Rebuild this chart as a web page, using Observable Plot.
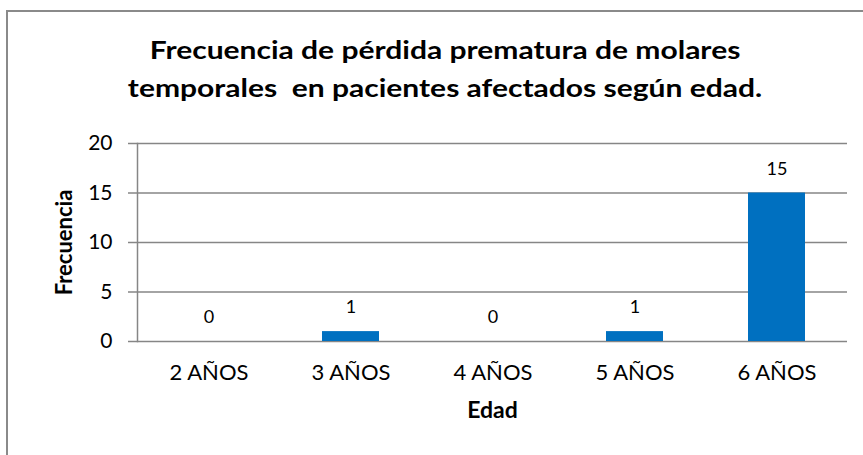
<!DOCTYPE html>
<html>
<head>
<meta charset="utf-8">
<script src="https://cdn.jsdelivr.net/npm/d3@7"></script>
<script src="https://cdn.jsdelivr.net/npm/@observablehq/plot@0.6"></script>
<style>
  html, body { margin: 0; padding: 0; background: #fff; }
  body { width: 863px; height: 455px; overflow: hidden; position: relative; font-family: Lato, "Open Sans", sans-serif; }
  #frame { position: absolute; left: 6px; top: 10px; width: 880px; height: 480px; border: 2px solid #8a8a8a; box-sizing: border-box; }
  #title { position: absolute; left: 0; top: 31px; width: 890px; text-align: center; font-weight: bold; font-size: 24px; line-height: 38px; color: #000; transform: scaleX(1.25); transform-origin: 445px 0; white-space: nowrap; }
  #chart { position: absolute; left: 0; top: 130px; }
</style>
</head>
<body>
<div id="frame"></div>
<div id="title">Frecuencia de pérdida prematura de molares<br>temporales&nbsp; en pacientes afectados según edad.</div>
<div id="chart"></div>
<script>
const categories = ["2 AÑOS", "3 AÑOS", "4 AÑOS", "5 AÑOS", "6 AÑOS"];
const frecuencia = [0, 1, 0, 1, 15];
const yTicks = [0, 5, 10, 15, 20];

const data = categories.map((c, i) => ({edad: c, n: frecuencia[i]}));

const chart = Plot.plot({
  width: 863,
  height: 325,
  marginLeft: 137,
  marginRight: 16,
  marginTop: 13,
  marginBottom: 114,
  style: {fontFamily: "Lato, 'Open Sans', sans-serif", background: "transparent", color: "#000"},
  x: {domain: categories, paddingInner: 0.6, paddingOuter: 0.3, label: null},
  y: {domain: [0, 20], label: null},
  marks: [
    Plot.ruleY(yTicks, {stroke: "#868686", strokeWidth: 1.5, insetLeft: -9}),
    Plot.frame({anchor: "left", stroke: "#868686", strokeWidth: 1.5}),
    Plot.barY(data, {x: "edad", y: "n", fill: "#0070C0"}),
    Plot.text(data, {x: "edad", y: "n", text: d => String(d.n), dy: -24, fontSize: 18, fill: "#000"}),
    Plot.axisY(yTicks, {tickSize: 0, tickPadding: 0, dx: -25, fontSize: 21, textAnchor: "end", label: null}),
    Plot.axisX({tickSize: 0, tickPadding: 23, fontSize: 22, label: null}),
    Plot.text(["Frecuencia"], {frameAnchor: "left", dx: -73, rotate: -90, textAnchor: "middle", fontSize: 22, fontWeight: "bold", fill: "#000"}),
    Plot.text(["Edad"], {frameAnchor: "bottom", dy: 76, fontSize: 23, fontWeight: "bold", fill: "#000"})
  ]
});
document.getElementById("chart").appendChild(chart);
</script>
</body>
</html>
